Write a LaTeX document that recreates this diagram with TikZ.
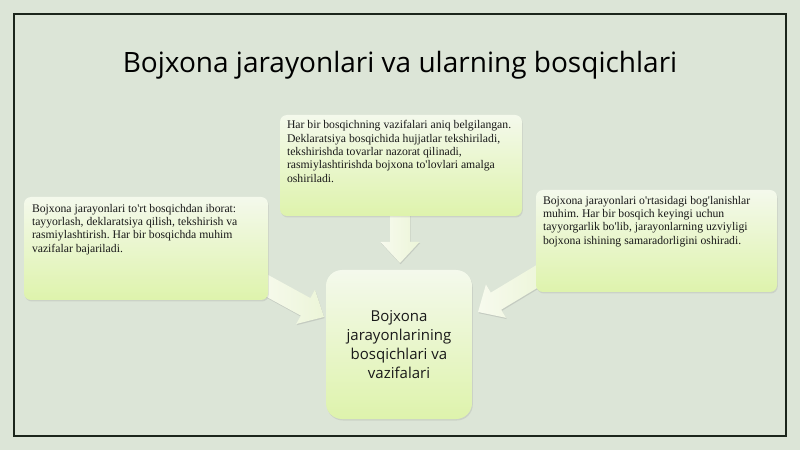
\documentclass[tikz,border=0pt]{standalone}
\usepackage{fontspec}
\newfontfamily\boxfont{Liberation Serif}
\newfontfamily\titlefont{Open Sans}
\usetikzlibrary{shadows,calc}
\frenchspacing
\definecolor{bgc}{RGB}{220,229,215}
\definecolor{framec}{RGB}{28,38,28}
\definecolor{boxtop}{RGB}{244,249,236}
\definecolor{boxbot}{RGB}{222,243,172}
\definecolor{txtc}{RGB}{25,25,25}
\definecolor{arrtop}{RGB}{247,250,238}
\definecolor{arrbot}{RGB}{236,245,216}
\tikzset{
  infobox/.style={draw=none, rounded corners=7pt, top color=boxtop, bottom color=boxbot,
    drop shadow={opacity=0.18, shadow xshift=0.8pt, shadow yshift=-1.5pt}},
  hubbox/.style={draw=none, rounded corners=16pt, top color=boxtop, bottom color=boxbot,
    drop shadow={opacity=0.18, shadow xshift=0.8pt, shadow yshift=-1.5pt},
    font=\titlefont\fontsize{15}{19.2}\selectfont, text=txtc, align=center},
  infotext/.style={anchor=north west, inner sep=0pt, align=left, text=txtc,
    font=\boxfont\fontsize{11.7}{13.4}\selectfont\frenchspacing},
  arrowbody/.style={draw=none, left color=arrtop, right color=arrbot,
    drop shadow={opacity=0.25, shadow xshift=0.6pt, shadow yshift=-1.2pt}},
}
% block arrow: #1 tail coordinate, #2 rotation angle, #3 total length
\newcommand\blockarr[3]{%
  \begin{scope}[shift={(#1)}, rotate=#2]
    \path[arrowbody] (0,-10) -- (#3-21,-10) -- (#3-21,-19.5) -- (#3,0)
      -- (#3-21,19.5) -- (#3-21,10) -- (0,10) -- cycle;
  \end{scope}}
\begin{document}
\begin{tikzpicture}[x=1pt,y=1pt]
\fill[bgc] (0,0) rectangle (800,450);
\useasboundingbox (0,0) rectangle (800,450);
\draw[framec, line width=2pt] (14,14) rectangle (786,436);

\node[font=\titlefont\fontsize{28}{34}\selectfont, text=black, anchor=base] (title) at (400,377)
  {Bojxona jarayonlari va ularning bosqichlari};

% arrows (behind boxes)
\coordinate (ta) at (400,236);
\coordinate (tb) at (400,187);
\coordinate (la) at (262,167);
\coordinate (lb) at (324,133);
\coordinate (ra) at (542,176.6);
\coordinate (rb) at (478,138);
\blockarr{ta}{-90}{49}
\blockarr{la}{-28.7}{70.7}
\blockarr{ra}{211.1}{74.7}

% boxes
\node[infobox, minimum width=242pt, minimum height=101pt] (topbox) at (401,284.5) {};
\node[infobox, minimum width=244pt, minimum height=103pt] (leftbox) at (146,201.5) {};
\node[infobox, minimum width=241pt, minimum height=102pt] (rightbox) at (656.5,209) {};
\node[hubbox, minimum width=146pt, minimum height=149pt] (hub) at (399,105.5)
  {Bojxona\\jarayonlarining\\bosqichlari va\\vazifalari};

\node[infotext] (toptext) at ($(topbox.north west)+(7,-5.5)$)
  {Har bir bosqichning vazifalari aniq belgilangan.\\
   Deklaratsiya bosqichida hujjatlar tekshiriladi,\\
   tekshirishda tovarlar nazorat qilinadi,\\
   rasmiylashtirishda bojxona to'lovlari amalga\\
   oshiriladi.};
\node[infotext] (lefttext) at ($(leftbox.north west)+(8,-7)$)
  {Bojxona jarayonlari to'rt bosqichdan iborat:\\
   tayyorlash, deklaratsiya qilish, tekshirish va\\
   rasmiylashtirish. Har bir bosqichda muhim\\
   vazifalar bajariladi.};
\node[infotext] (righttext) at ($(rightbox.north west)+(7,-6)$)
  {Bojxona jarayonlari o'rtasidagi bog'lanishlar\\
   muhim. Har bir bosqich keyingi uchun\\
   tayyorgarlik bo'lib, jarayonlarning uzviyligi\\
   bojxona ishining samaradorligini oshiradi.};
\end{tikzpicture}
\end{document}
